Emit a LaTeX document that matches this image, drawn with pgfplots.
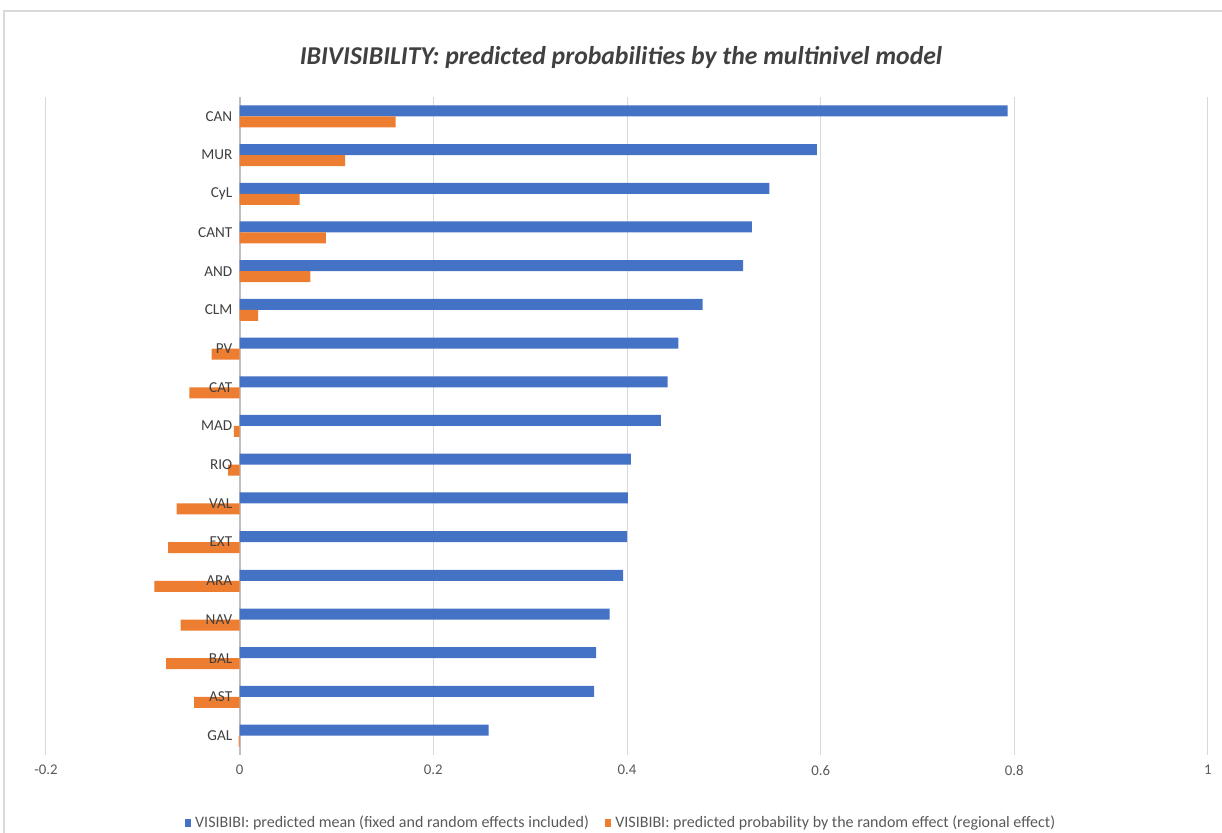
\documentclass[border=0pt]{standalone}
\usepackage{fontspec}
\setmainfont{Carlito}
\usepackage{pgfplots}
\pgfplotsset{compat=1.18}
\usepackage{pgfplotstable}

\definecolor{serblue}{HTML}{4472C4}
\definecolor{serorange}{HTML}{ED7D31}
\definecolor{gridgray}{HTML}{D9D9D9}
\definecolor{axisgray}{HTML}{BFBFBF}
\definecolor{labelgray}{HTML}{404040}
\definecolor{tickgray}{HTML}{595959}

% y = position of each region (16 = top row)
\pgfplotstableread{
y  name  mean   rand
16 CAN   0.793  0.161
15 MUR   0.596  0.109
14 CyL   0.547  0.062
13 CANT  0.529  0.089
12 AND   0.520  0.073
11 CLM   0.478  0.019
10 PV    0.453 -0.029
9  CAT   0.442 -0.052
8  MAD   0.435 -0.006
7  RIO   0.404 -0.012
6  VAL   0.401 -0.065
5  EXT   0.400 -0.074
4  ARA   0.396 -0.088
3  NAV   0.382 -0.061
2  BAL   0.368 -0.076
1  AST   0.366 -0.047
0  GAL   0.257 -0.001
}\regions

\begin{document}
\begin{tikzpicture}[x=1pt,y=1pt]
\useasboundingbox (0,0) rectangle (611,416.5);
\begin{scope}
  \clip (0,0) rectangle (611,416.5);
  \draw[gridgray, line width=0.6pt] (2,-10) rectangle (625,411);
\end{scope}

\begin{axis}[
  at={(23pt,39pt)}, anchor=south west,
  scale only axis, width=581pt, height=329pt,
  xmin=-0.2, xmax=1, ymin=-0.5, ymax=16.5,
  xtick={-0.2,0,0.2,...,1.0},
  xticklabels={-0.2,0,0.2,0.4,0.6,0.8,1},
  axis x line*=bottom,
  x axis line style={draw=none},
  axis y line=center,
  y axis line style={-, draw=axisgray, line width=1.1pt},
  xmajorgrids, major grid style={gridgray, line width=0.5pt},
  major tick length=0pt,
  ytick=\empty,
  xticklabel style={font=\fontsize{7.4}{9}\selectfont, text=tickgray, yshift=-1.5pt},
  /pgf/number format/assume math mode=true,
  legend columns=2,
  legend style={at={(0.4957,-0.1033)}, anchor=center, draw=none, fill=none,
    font=\fontsize{8}{9}\selectfont, text=tickgray,
    /tikz/every even column/.append style={column sep=6pt}},
  legend image code/.code={\fill[#1] (0pt,-2pt) rectangle (3.2pt,2pt);},
]
\addplot[xbar, bar width=5.5pt, draw=none, fill=serblue, bar shift=2.75pt]
  table[x=mean, y=y] {\regions};
\addplot[xbar, bar width=5.5pt, draw=none, fill=serorange, bar shift=-2.75pt]
  table[x=rand, y=y] {\regions};
% region names, set at the zero line in front of the bars
\addplot[draw=none, mark=none, forget plot,
  nodes near coords, point meta=explicit symbolic,
  nodes near coords style={anchor=east, inner sep=0pt, xshift=-3.5pt,
    font=\fontsize{7.6}{9}\selectfont, text=labelgray}]
  table[x expr=0, y=y, meta=name] {\regions};
\legend{VISIBIBI: predicted mean (fixed and random effects included),
        VISIBIBI: predicted probability by the random effect (regional effect)}
\end{axis}

\node[font=\fontsize{12.85}{14}\selectfont\bfseries\itshape, text=labelgray]
  at (310.5,387.5) {IBIVISIBILITY: predicted probabilities by the multinivel model};
\end{tikzpicture}
\end{document}
